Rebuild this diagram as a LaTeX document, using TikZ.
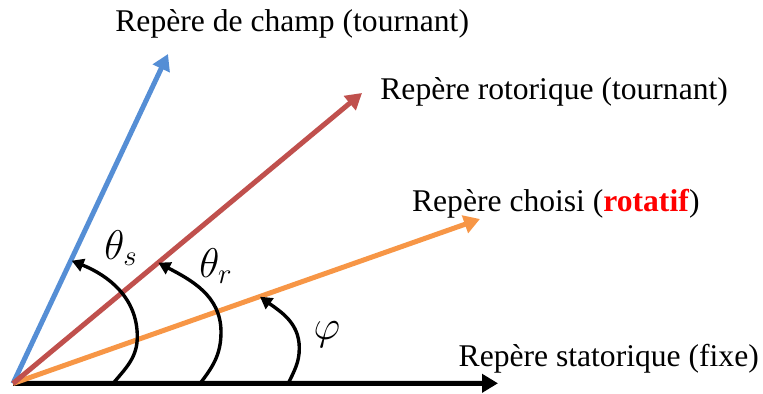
\documentclass[tikz,border=0pt]{standalone}
\usepackage{fontspec}
\setmainfont{Liberation Serif}
\usetikzlibrary{arrows.meta}
\definecolor{vblue}{HTML}{558ED5}
\definecolor{vred}{HTML}{C0504D}
\definecolor{vorange}{HTML}{F79646}
\tikzset{
  vec/.style={line width=2.5pt, -{Triangle[length=8pt,width=9pt]}},
  anglearc/.style={line width=1.7pt, black, -{Triangle[length=6pt,width=6.5pt]}},
  lbl/.style={anchor=base west, inner sep=0pt, font=\fontsize{15.8}{19}\selectfont},
  mlbl/.style={inner sep=0pt, font=\fontsize{20.5}{24}\selectfont}
}
\begin{document}
\begin{tikzpicture}[x=0.5pt,y=0.5pt]
\useasboundingbox (0,0) rectangle (763,394);
\coordinate (O) at (13,10.5);
\coordinate (X) at (498,10.7);
\coordinate (B) at (168,340);
\coordinate (R) at (362,301);
\coordinate (C) at (480,175);
% vectors
\draw[vec, black] (O) -- (X);
\draw[vec, vblue] (O) -- (B);
\draw[vec, vorange] (O) -- (C);
\draw[vec, vred] (O) -- (R);
% angle arcs
\coordinate (s0) at (113,10.5);
\coordinate (s1) at (137.3,57.3);
\coordinate (s2) at (71.7,133.3);
\draw[anglearc] (s0) to[out=50,in=-90] (s1) to[out=90,in=-22] (s2);
\coordinate (r0) at (200,10.5);
\coordinate (r1) at (221,62);
\coordinate (r2) at (158.3,131.3);
\draw[anglearc] (r0) to[out=52,in=-90] (r1) to[out=90,in=-28] (r2);
\coordinate (p0) at (288.3,10.5);
\coordinate (p1) at (299.3,46);
\coordinate (p2) at (260,97.3);
\draw[anglearc] (p0) to[out=65,in=-90] (p1) to[out=90,in=-36] (p2);
% labels
\node[lbl] (lchamp) at (115,362.3) {Repère de champ (tournant)};
\node[lbl] (lrotor) at (380,294) {Repère rotorique (tournant)};
\node[lbl] (lchoisi) at (411.7,182.3) {Repère choisi (\textcolor{red}{\textbf{rotatif}})};
\node[lbl] (lstator) at (458.3,27.3) {Repère statorique (fixe)};
\node[mlbl] (ts) at (121,146) {$\theta_s$};
\node[mlbl] (tr) at (216,128) {$\theta_r$};
\node[mlbl] (phi) at (327,59) {$\varphi$};
\end{tikzpicture}
\end{document}
